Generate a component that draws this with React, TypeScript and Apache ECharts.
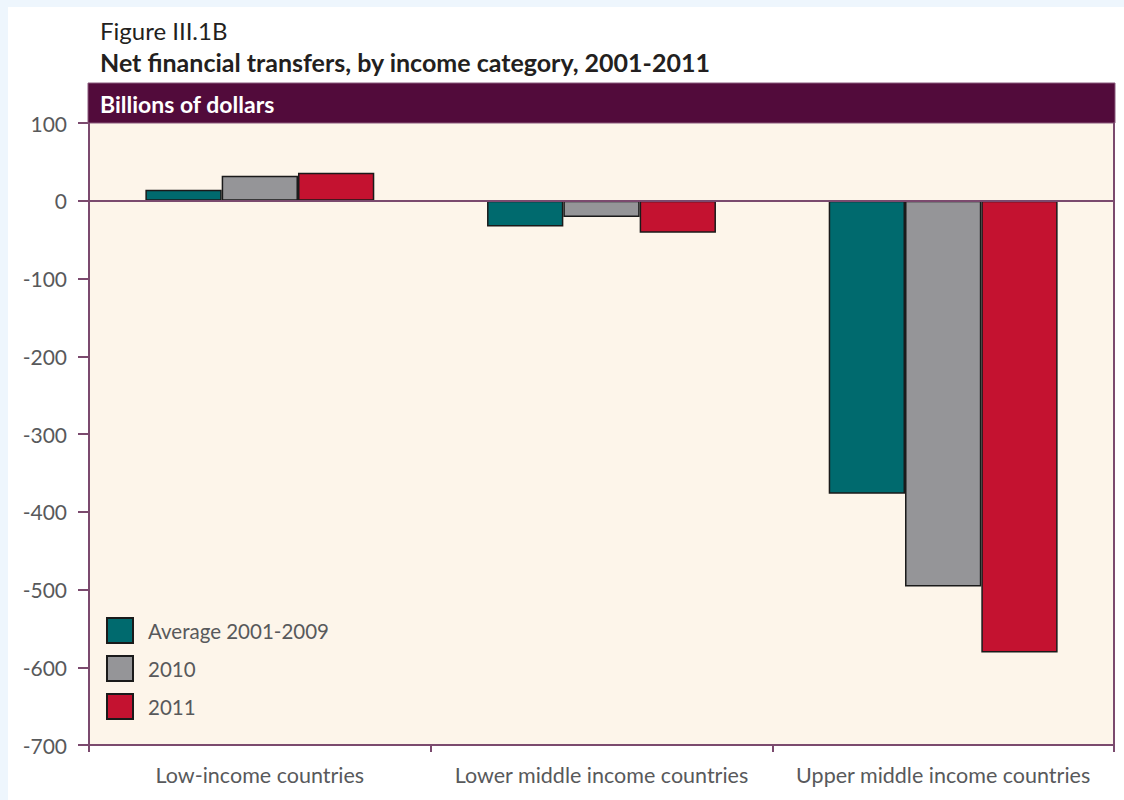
import React, { useEffect, useRef } from "react";
import * as echarts from "echarts";

const categories = ["Low-income countries", "Lower middle income countries", "Upper middle income countries"];
const seriesNames = ["Average 2001-2009", "2010", "2011"];
const avg2001_2009 = [14, -33, -377];
const y2010 = [32, -21, -496];
const y2011 = [36, -41, -581];
const seriesColors = ["#006a6e", "#959598", "#c41230"];

const FONT = "Lato, 'Open Sans', sans-serif";

export default function App() {
  const ref = useRef<HTMLDivElement>(null);
  useEffect(() => {
    document.body.style.margin = "0";
    const chart = echarts.init(ref.current!, null, { renderer: "svg" });
    const data = [avg2001_2009, y2010, y2011];
    chart.setOption({
      animation: false,
      backgroundColor: "#eef6fd",
      textStyle: { fontFamily: FONT },
      graphic: [
        { type: "rect", shape: { x: 8, y: 7, width: 1116, height: 793 }, style: { fill: "#ffffff" }, z: -10 },
        { type: "rect", shape: { x: 88, y: 83, width: 1027, height: 40 }, style: { fill: "#520b3b", stroke: "#8a5a7c", lineWidth: 1 }, z: 5 },
        { type: "text", x: 100, y: 104, style: { text: "Billions of dollars", fill: "#ffffff", font: `bold 23px ${FONT}`, textVerticalAlign: "middle" }, z: 6 },
        { type: "text", x: 100, y: 30, style: { text: "Figure III.1B", fill: "#231f20", font: `24px ${FONT}`, textVerticalAlign: "middle" } },
        { type: "text", x: 100, y: 62, style: { text: "Net financial transfers, by income category, 2001-2011", fill: "#231f20", font: `bold 25px ${FONT}`, textVerticalAlign: "middle" } },
        { type: "line", shape: { x1: 1114, y1: 123, x2: 1114, y2: 745 }, style: { stroke: "#7b4a6e", lineWidth: 2 }, z: 5 },
      ],
      grid: {
        left: 89, top: 123, width: 1025, height: 622,
        show: true, backgroundColor: "#fdf5ea", borderWidth: 0,
      },
      legend: {
        orient: "vertical", left: 106, top: 617, itemWidth: 26, itemHeight: 25, itemGap: 11,
        icon: "rect", padding: 0,
        textStyle: { color: "#58595b", fontSize: 20.5, fontFamily: FONT, padding: [0, 0, 0, 10] },
        data: seriesNames,
      },
      xAxis: {
        type: "category", data: categories,
        axisLine: { onZero: false, lineStyle: { color: "#7b4a6e", width: 2 } },
        axisTick: { show: true, interval: 0, alignWithLabel: false, length: 7, lineStyle: { color: "#7b4a6e", width: 2 } },
        axisLabel: { interval: 0, color: "#58595b", fontSize: 21.5, margin: 19, fontFamily: FONT },
      },
      yAxis: {
        type: "value", min: -700, max: 100, interval: 100,
        axisLine: { show: true, lineStyle: { color: "#7b4a6e", width: 2 } },
        axisTick: { show: true, length: 11, lineStyle: { color: "#7b4a6e", width: 2 } },
        axisLabel: { color: "#58595b", fontSize: 21, margin: 22, fontFamily: FONT },
        splitLine: { show: false },
      },
      series: seriesNames.map((name, i) => ({
        name, type: "bar", data: data[i],
        barGap: "0%", barCategoryGap: "33%",
        itemStyle: { color: seriesColors[i], borderColor: "#1a1a1a", borderWidth: 1.5 },
        ...(i === 0 ? {
          markLine: {
            silent: true, symbol: "none", label: { show: false },
            lineStyle: { color: "#7b4a6e", width: 2, type: "solid" },
            data: [{ yAxis: 0 }],
          },
        } : {}),
      })),
    });
    return () => chart.dispose();
  }, []);
  return <div ref={ref} style={{ width: 1124, height: 800 }} />;
}
